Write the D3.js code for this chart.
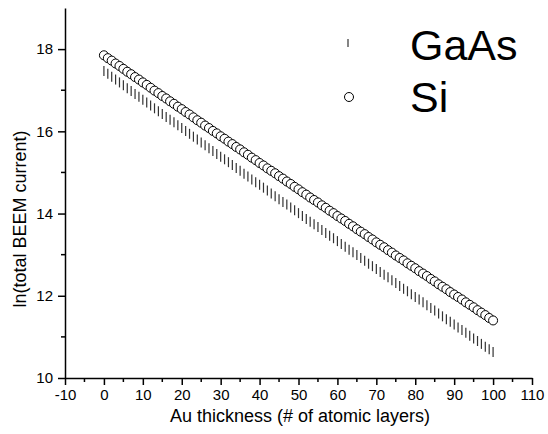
<!DOCTYPE html>
<html>
<head>
<meta charset="utf-8">
<script src="https://cdn.jsdelivr.net/npm/d3@7"></script>
<style>
  body { margin: 0; background: #fff; }
  text { font-family: "Liberation Sans", Arial, sans-serif; }
</style>
</head>
<body>
<div id="chart"></div>
<script>
// Au thickness (# of atomic layers), 0..100
var thickness = d3.range(0, 101);

var siValues = [
  17.85,17.78,17.72,17.65,17.59,17.52,17.45,17.39,17.32,17.26,
  17.19,17.13,17.06,16.99,16.93,16.86,16.80,16.73,16.67,16.60,
  16.54,16.47,16.41,16.34,16.27,16.21,16.14,16.08,16.01,15.95,
  15.88,15.82,15.75,15.69,15.62,15.56,15.49,15.43,15.36,15.30,
  15.23,15.17,15.10,15.04,14.98,14.91,14.85,14.78,14.72,14.65,
  14.59,14.52,14.46,14.39,14.33,14.27,14.20,14.14,14.07,14.01,
  13.94,13.88,13.82,13.75,13.69,13.62,13.56,13.50,13.43,13.37,
  13.30,13.24,13.18,13.11,13.05,12.98,12.92,12.86,12.79,12.73,
  12.67,12.60,12.54,12.48,12.41,12.35,12.28,12.22,12.16,12.09,
  12.03,11.97,11.91,11.84,11.78,11.72,11.65,11.59,11.53,11.46,
  11.40
];

var gaasValues = [
  17.47,17.40,17.33,17.26,17.19,17.12,17.05,16.98,16.91,16.84,
  16.77,16.70,16.63,16.56,16.49,16.42,16.35,16.28,16.22,16.15,
  16.08,16.01,15.94,15.87,15.80,15.73,15.66,15.59,15.52,15.45,
  15.38,15.32,15.25,15.18,15.11,15.04,14.97,14.90,14.83,14.76,
  14.70,14.63,14.56,14.49,14.42,14.35,14.28,14.22,14.15,14.08,
  14.01,13.94,13.87,13.80,13.74,13.67,13.60,13.53,13.46,13.40,
  13.33,13.26,13.19,13.12,13.06,12.99,12.92,12.85,12.78,12.72,
  12.65,12.58,12.51,12.45,12.38,12.31,12.24,12.17,12.11,12.04,
  11.97,11.91,11.84,11.77,11.70,11.64,11.57,11.50,11.43,11.37,
  11.30,11.23,11.17,11.10,11.03,10.96,10.90,10.83,10.76,10.70,
  10.63
];

var xTicks = [-10, 0, 10, 20, 30, 40, 50, 60, 70, 80, 90, 100, 110];
var xMinor = [-5, 5, 15, 25, 35, 45, 55, 65, 75, 85, 95, 105];
var yTicks = [10, 12, 14, 16, 18];
var yMinor = [11, 13, 15, 17];

var width = 548, height = 434;

var svg = d3.select("#chart").append("svg")
    .attr("width", width)
    .attr("height", height);

var x = d3.scaleLinear().domain([-10, 110]).range([65, 532]);
var y = d3.scaleLinear().domain([10, 19]).range([378, 8]);

var plain = function(d){ return String(d); };

// axes
var xAxis = svg.append("g")
    .attr("transform", "translate(0," + y(10) + ")")
    .call(d3.axisBottom(x).tickValues(xTicks).tickFormat(plain)
        .tickSize(7).tickSizeOuter(0).tickPadding(4));
xAxis.append("g").selectAll("line").data(xMinor).enter().append("line")
    .attr("x1", function(d){ return x(d); })
    .attr("x2", function(d){ return x(d); })
    .attr("y1", 0).attr("y2", 4)
    .style("stroke", "#000").style("stroke-width", 1.5);

var yAxis = svg.append("g")
    .attr("transform", "translate(" + x(-10) + ",0)")
    .call(d3.axisLeft(y).tickValues(yTicks).tickFormat(plain)
        .tickSize(7).tickSizeOuter(0).tickPadding(5));
yAxis.append("g").selectAll("line").data(yMinor).enter().append("line")
    .attr("y1", function(d){ return y(d); })
    .attr("y2", function(d){ return y(d); })
    .attr("x1", 0).attr("x2", -4)
    .style("stroke", "#000").style("stroke-width", 1.5);

svg.selectAll(".domain, .tick line").style("stroke", "#000").style("stroke-width", 1.5);
svg.selectAll(".tick text")
    .style("font-size", "15px")
    .style("font-family", "'Liberation Sans', Arial, sans-serif")
    .style("fill", "#000");

// axis titles
svg.append("text")
    .attr("x", 300)
    .attr("y", 422)
    .attr("text-anchor", "middle")
    .style("font-size", "18px")
    .text("Au thickness (# of atomic layers)");

svg.append("text")
    .attr("transform", "translate(26,219) rotate(-90)")
    .attr("text-anchor", "middle")
    .style("font-size", "18px")
    .text("ln(total BEEM current)");

// GaAs: vertical tick markers
svg.append("g").selectAll("line").data(thickness).enter().append("line")
    .attr("x1", function(d){ return x(d); })
    .attr("x2", function(d){ return x(d); })
    .attr("y1", function(d, i){ return y(gaasValues[i]) - 5; })
    .attr("y2", function(d, i){ return y(gaasValues[i]) + 5; })
    .style("stroke", "#333")
    .style("stroke-width", 1.2);

// Si: open circles
svg.append("g").selectAll("circle").data(thickness).enter().append("circle")
    .attr("cx", function(d){ return x(d); })
    .attr("cy", function(d, i){ return y(siValues[i]); })
    .attr("r", 4.5)
    .style("fill", "#fff")
    .style("stroke", "#000")
    .style("stroke-width", 1);

// legend
svg.append("line")
    .attr("x1", 348).attr("x2", 348)
    .attr("y1", 39).attr("y2", 47)
    .style("stroke", "#333").style("stroke-width", 1.2);
svg.append("text")
    .attr("x", 410).attr("y", 60)
    .style("font-size", "43px")
    .text("GaAs");

svg.append("circle")
    .attr("cx", 349).attr("cy", 97).attr("r", 4.5)
    .style("fill", "#fff").style("stroke", "#000").style("stroke-width", 1);
svg.append("text")
    .attr("x", 410).attr("y", 112)
    .style("font-size", "43px")
    .text("Si");
</script>
</body>
</html>
